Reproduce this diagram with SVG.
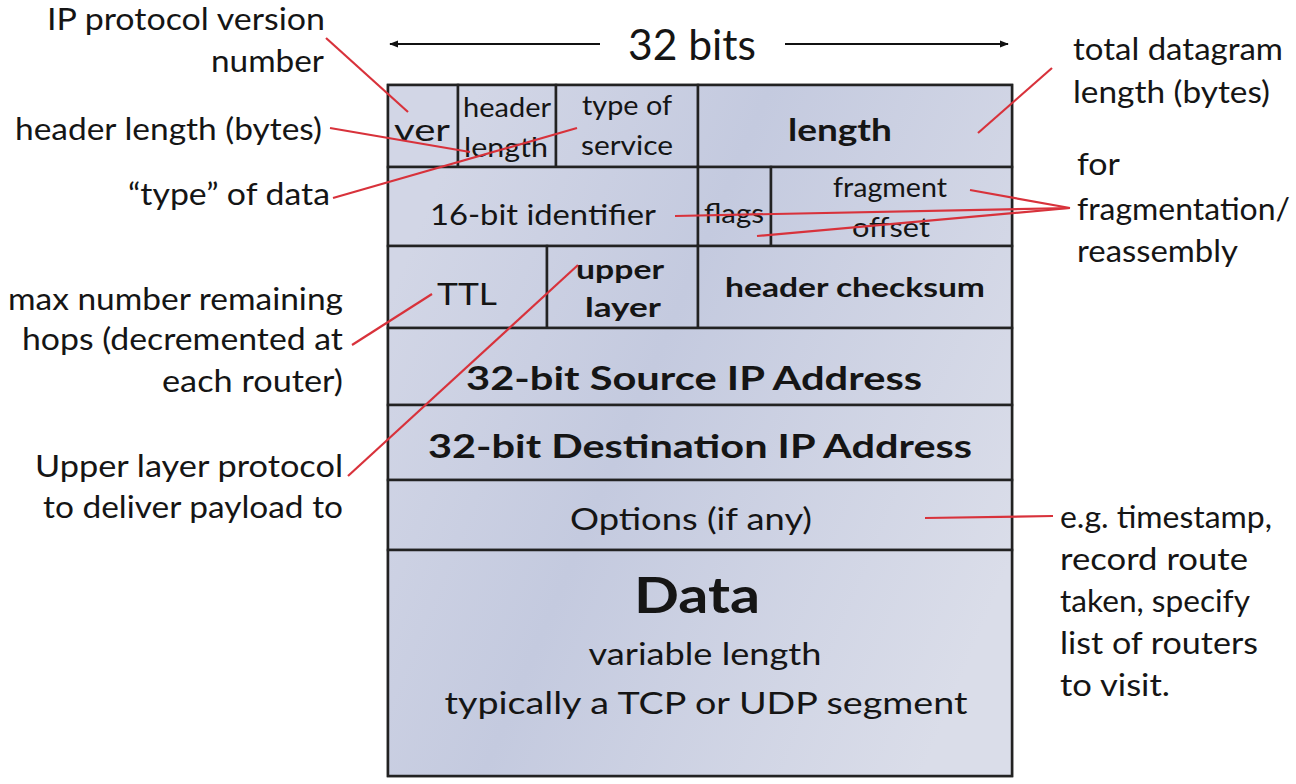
<svg xmlns="http://www.w3.org/2000/svg" width="1296" height="784" viewBox="0 0 1296 784">
<defs>
<linearGradient id="bg" gradientUnits="userSpaceOnUse" x1="388" y1="300" x2="1012" y2="560">
<stop offset="0" stop-color="#d2d6e6"/>
<stop offset="0.4" stop-color="#c4cadf"/>
<stop offset="1" stop-color="#dadde9"/>
</linearGradient>
<marker id="ah" viewBox="0 0 10 10" refX="9" refY="5" markerWidth="9" markerHeight="9" orient="auto-start-reverse" markerUnits="userSpaceOnUse">
<path d="M0,1 L10,5 L0,9 z" fill="#111"/>
</marker>
<style>
text{font-family:Lato,"Open Sans","Liberation Sans",sans-serif;fill:#151515}
.c{text-anchor:middle}
.r{text-anchor:end}
.b{font-weight:bold}
.cell{fill:url(#bg);stroke:#222;stroke-width:2.5}
.red{stroke:#d8323b;stroke-width:2.2;fill:none}
.blk{stroke:#111;stroke-width:2.2;fill:none}
</style>
</defs>
<rect width="1296" height="784" fill="#fff"/>

<g id="width-arrow">
<line class="blk" x1="600" y1="44" x2="390" y2="44" marker-end="url(#ah)"/>
<line class="blk" x1="785" y1="44" x2="1008" y2="44" marker-end="url(#ah)"/>
<text class="c" x="692" y="60" font-size="42" textLength="128" lengthAdjust="spacingAndGlyphs">32 bits</text>
</g>

<g id="header-box">
<rect class="cell" x="388" y="85" width="624" height="691"/>
</g>

<g id="ver"><rect class="cell" x="388" y="85" width="70" height="82"/>
<text class="c" x="422" y="141" font-size="31" textLength="56" lengthAdjust="spacingAndGlyphs">ver</text></g>
<g id="header-length"><rect class="cell" x="458" y="85" width="98" height="82"/>
<text class="c" x="507" y="117" font-size="26" textLength="88" lengthAdjust="spacingAndGlyphs">header</text>
<text class="c" x="506" y="157" font-size="26" textLength="84" lengthAdjust="spacingAndGlyphs">length</text></g>
<g id="type-of-service"><rect class="cell" x="556" y="85" width="142" height="82"/>
<text class="c" x="627" y="115" font-size="27" textLength="90" lengthAdjust="spacingAndGlyphs">type of</text>
<text class="c" x="627" y="155" font-size="27" textLength="92" lengthAdjust="spacingAndGlyphs">service</text></g>
<g id="length"><rect class="cell" x="698" y="85" width="314" height="82"/>
<text class="c b" x="840" y="141" font-size="31" textLength="104" lengthAdjust="spacingAndGlyphs">length</text></g>

<g id="identifier"><rect class="cell" x="388" y="167" width="310" height="79"/>
<text class="c" x="543" y="225" font-size="29" textLength="226" lengthAdjust="spacingAndGlyphs">16-bit identifier</text></g>
<g id="flags"><rect class="cell" x="698" y="167" width="73" height="79"/>
<text class="c" x="734" y="223" font-size="27" textLength="60" lengthAdjust="spacingAndGlyphs">flags</text></g>
<g id="fragment-offset"><rect class="cell" x="771" y="167" width="241" height="79"/>
<text class="c" x="890" y="197" font-size="26" textLength="114" lengthAdjust="spacingAndGlyphs">fragment</text>
<text class="c" x="891" y="237" font-size="26" textLength="78" lengthAdjust="spacingAndGlyphs">offset</text></g>

<g id="ttl"><rect class="cell" x="388" y="246" width="159" height="82"/>
<text class="c" x="467" y="305" font-size="30" textLength="60" lengthAdjust="spacingAndGlyphs">TTL</text></g>
<g id="upper-layer"><rect class="cell" x="547" y="246" width="151" height="82"/>
<text class="c b" x="620" y="279" font-size="27" textLength="88" lengthAdjust="spacingAndGlyphs">upper</text>
<text class="c b" x="623" y="317" font-size="27" textLength="76" lengthAdjust="spacingAndGlyphs">layer</text></g>
<g id="header-checksum"><rect class="cell" x="698" y="246" width="314" height="82"/>
<text class="c b" x="855" y="297" font-size="27" textLength="260" lengthAdjust="spacingAndGlyphs">header checksum</text></g>

<g id="source-ip"><rect class="cell" x="388" y="328" width="624" height="77"/>
<text class="c b" x="694" y="390" font-size="33" textLength="456" lengthAdjust="spacingAndGlyphs">32-bit Source IP Address</text></g>
<g id="dest-ip"><rect class="cell" x="388" y="405" width="624" height="75"/>
<text class="c b" x="700" y="458" font-size="33" textLength="544" lengthAdjust="spacingAndGlyphs">32-bit Destination IP Address</text></g>
<g id="options"><rect class="cell" x="388" y="480" width="624" height="70"/>
<text class="c" x="691" y="530" font-size="30" textLength="242" lengthAdjust="spacingAndGlyphs">Options (if any)</text></g>
<g id="data"><rect class="cell" x="388" y="550" width="624" height="226"/>
<text class="c b" x="697" y="613" font-size="50" textLength="126" lengthAdjust="spacingAndGlyphs">Data</text>
<text class="c" x="705" y="665" font-size="31" textLength="233" lengthAdjust="spacingAndGlyphs">variable length</text>
<text class="c" x="706" y="714" font-size="31" textLength="523" lengthAdjust="spacingAndGlyphs">typically a TCP or UDP segment</text></g>

<g id="connectors">
<line class="red" x1="326" y1="38" x2="408" y2="112"/>
<line class="red" x1="330" y1="128" x2="470" y2="152"/>
<line class="red" x1="333" y1="198" x2="577" y2="128"/>
<line class="red" x1="352" y1="345" x2="432" y2="294"/>
<line class="red" x1="348" y1="476" x2="578" y2="265"/>
<line class="red" x1="1052" y1="68" x2="978" y2="133"/>
<line class="red" x1="1070" y1="208" x2="675" y2="216"/>
<line class="red" x1="1070" y1="208" x2="970" y2="190"/>
<line class="red" x1="1070" y1="208" x2="757" y2="236"/>
<line class="red" x1="925" y1="518" x2="1053" y2="516"/>
</g>

<g id="left-notes">
<text class="r" x="325" y="30" font-size="30" textLength="278" lengthAdjust="spacingAndGlyphs">IP protocol version</text>
<text class="r" x="324" y="72" font-size="30" textLength="113" lengthAdjust="spacingAndGlyphs">number</text>
<text class="r" x="322" y="140" font-size="30" textLength="307" lengthAdjust="spacingAndGlyphs">header length (bytes)</text>
<text class="r" x="330" y="205" font-size="30" textLength="202" lengthAdjust="spacingAndGlyphs">“type” of data</text>
<text class="r" x="343" y="310" font-size="30" textLength="335" lengthAdjust="spacingAndGlyphs">max number remaining</text>
<text class="r" x="343" y="350" font-size="30" textLength="321" lengthAdjust="spacingAndGlyphs">hops (decremented at</text>
<text class="r" x="343" y="392" font-size="30" textLength="181" lengthAdjust="spacingAndGlyphs">each router)</text>
<text class="r" x="343" y="477" font-size="30" textLength="308" lengthAdjust="spacingAndGlyphs">Upper layer protocol</text>
<text class="r" x="343" y="518" font-size="30" textLength="300" lengthAdjust="spacingAndGlyphs">to deliver payload to</text>
</g>

<g id="right-notes">
<text x="1073" y="60" font-size="30" textLength="210" lengthAdjust="spacingAndGlyphs">total datagram</text>
<text x="1073" y="103" font-size="30" textLength="197" lengthAdjust="spacingAndGlyphs">length (bytes)</text>
<text x="1077" y="175" font-size="30" textLength="43" lengthAdjust="spacingAndGlyphs">for</text>
<text x="1077" y="220" font-size="30" textLength="213" lengthAdjust="spacingAndGlyphs">fragmentation/</text>
<text x="1077" y="262" font-size="30" textLength="161" lengthAdjust="spacingAndGlyphs">reassembly</text>
<text x="1060" y="528" font-size="30" textLength="212" lengthAdjust="spacingAndGlyphs">e.g. timestamp,</text>
<text x="1060" y="570" font-size="30" textLength="188" lengthAdjust="spacingAndGlyphs">record route</text>
<text x="1060" y="612" font-size="30" textLength="190" lengthAdjust="spacingAndGlyphs">taken, specify</text>
<text x="1060" y="654" font-size="30" textLength="198" lengthAdjust="spacingAndGlyphs">list of routers</text>
<text x="1060" y="696" font-size="30" textLength="110" lengthAdjust="spacingAndGlyphs">to visit.</text>
</g>
</svg>
